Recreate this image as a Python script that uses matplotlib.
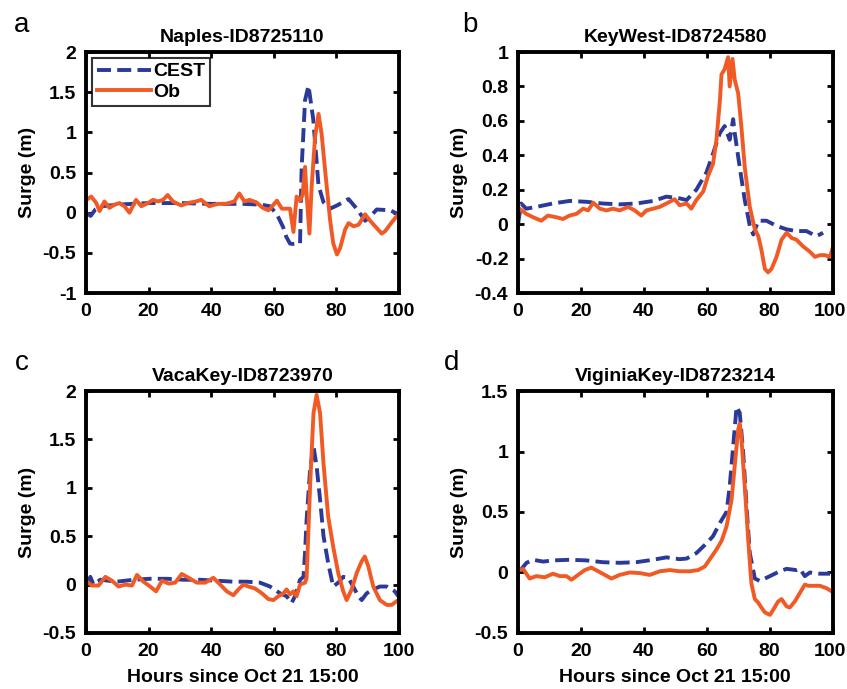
import numpy as np
import matplotlib
matplotlib.use('Agg')
from matplotlib import pyplot as plt
import matplotlib.transforms as mtrans

plt.rcParams['font.family'] = ['Liberation Sans', 'DejaVu Sans']
plt.rcParams['font.weight'] = 'bold'

# --- Naples ---
a_cest_t = [0, 1.5, 3, 5, 10, 20, 30, 40, 50, 56, 58.8, 61, 63, 64, 65.2, 66.5, 68.4, 68.9, 70, 71.1,
            72.6, 74.3, 75.9, 78, 80.2, 83.9, 86.5, 89.2, 90.8, 92.9, 97.2, 99.3]
a_cest_v = [0.0, -0.04, 0.04, 0.08, 0.1, 0.12, 0.12, 0.11, 0.11, 0.1, 0.08, -0.02, -0.18, -0.3, -0.385, -0.39, -0.385,
            0.55, 1.4, 1.58, 1.17, 0.34, 0.13, 0.05, 0.09, 0.17, 0.05, -0.1, -0.05, 0.04, 0.03, -0.01]
a_ob_t = [0.1, 1.7, 3.3, 4.35, 5.9, 7.5, 9.1, 10.7, 12.3, 13.9, 16, 17.7, 19.8, 21.4, 23, 24.6, 26.1, 27.8,
          30.4, 32.5, 35.2, 36.8, 39.4, 42.1, 44.8, 47.4, 49, 50.6, 52.2, 54.4, 56.5, 58.3, 59.5, 61, 62.6,
          65.2, 66.3, 67.3, 68.4, 69.2, 70, 70.5, 71.4, 72.1, 73.2, 74.3, 75.3, 76.4, 78, 79, 80.2, 81.2,
          82.8, 83.9, 85.5, 87.1, 89.2, 90.8, 92.4, 94.5, 95.6, 97.7, 99.8]
a_ob_v = [0.16, 0.2, 0.12, 0.02, 0.14, 0.06, 0.1, 0.12, 0.08, 0.0, 0.16, 0.08, 0.12, 0.16, 0.14, 0.16, 0.22, 0.14,
          0.09, 0.12, 0.14, 0.16, 0.08, 0.11, 0.11, 0.14, 0.24, 0.14, 0.16, 0.13, 0.06, 0.03, 0.08, 0.15, 0.05,
          0.05, -0.24, 0.2, 0.15, 0.22, 0.57, 0.22, -0.26, 0.32, 0.94, 1.23, 0.98, 0.53, -0.09, -0.38, -0.52, -0.44,
          -0.21, -0.13, -0.17, -0.15, -0.02, -0.1, -0.17, -0.26, -0.23, -0.12, -0.02]

# --- KeyWest ---
b_cest_t = [0, 1, 2.6, 5.8, 11, 16.4, 21.7, 27, 32.3, 37.6, 43, 47.2, 51.4, 53.6, 56.7, 59.9, 62, 64.2, 65.7,
            67.3, 68.4, 68.9, 70.5, 72.1, 73.7, 74.8, 76.4, 79, 82.2, 85.4, 88.5, 91.7, 94.9, 97]
b_cest_v = [0.0, 0.12, 0.09, 0.1, 0.12, 0.135, 0.13, 0.12, 0.115, 0.12, 0.135, 0.16, 0.15, 0.14, 0.2, 0.3, 0.41,
            0.53, 0.57, 0.49, 0.61, 0.53, 0.33, 0.14, -0.01, -0.06, 0.02, 0.02, -0.01, -0.03, -0.04, -0.04, -0.07, -0.05]
b_ob_t = [0.5, 2.6, 4.8, 7.4, 9.5, 12.2, 14.3, 16.4, 18.6, 20.7, 22.3, 23.9, 26, 28.1, 30.2, 32.3, 35, 37.1,
          39.2, 40.8, 43, 45, 47.2, 49.8, 51.4, 53.6, 55.1, 56.7, 58.9, 60.4, 62, 63.1, 64.2, 64.7, 65.7, 66.8,
          67.3, 68.2, 68.9, 70, 71, 72.1, 73.7, 75.3, 76.4, 77.4, 78.5, 79.5, 80.6, 82.2, 83.8, 85.4, 87, 88.5,
          90.7, 92.8, 94.4, 96, 97.6, 99.2, 100]
b_ob_v = [0.09, 0.06, 0.04, 0.02, 0.05, 0.04, 0.03, 0.05, 0.06, 0.09, 0.08, 0.125, 0.09, 0.08, 0.09, 0.08, 0.1, 0.08,
          0.05, 0.08, 0.09, 0.1, 0.12, 0.145, 0.11, 0.12, 0.09, 0.14, 0.19, 0.28, 0.35, 0.49, 0.72, 0.87, 0.9, 0.97,
          0.8, 0.96, 0.84, 0.76, 0.57, 0.33, 0.1, -0.03, -0.07, -0.15, -0.26, -0.28, -0.26, -0.19, -0.09, -0.05,
          -0.08, -0.09, -0.13, -0.16, -0.19, -0.18, -0.18, -0.19, -0.14]

# --- VacaKey ---
c_cest_t = [0.5, 1.4, 2.4, 4.6, 9.9, 15.2, 20.5, 25.9, 31.2, 36.5, 41.8, 47.1, 51.4, 55.6, 58.8, 62, 64.1, 65.7,
            66.8, 68.4, 69.5, 70, 70.5, 71.6, 72.7, 73.7, 74.8, 75.9, 77.4, 79, 80.6, 82.2, 83.8, 85.4, 87, 88.1,
            89.7, 91.8, 93.9, 96.1, 98.7, 99.8]
c_cest_v = [0.02, 0.08, 0.0, 0.05, 0.03, 0.05, 0.06, 0.06, 0.05, 0.05, 0.04, 0.03, 0.03, 0.02, -0.02, -0.09, -0.12,
            -0.19, -0.12, 0.05, 0.08, 0.33, 0.67, 1.18, 1.43, 1.22, 0.88, 0.5, 0.22, -0.02, 0.02, 0.08, 0.07, -0.02,
            -0.12, -0.16, -0.09, -0.05, -0.02, -0.02, -0.07, -0.12]
c_ob_t = [0.3, 1.9, 4, 6.2, 8.3, 10.4, 12.6, 14.7, 16.3, 18.4, 20.5, 22.4, 24.3, 26.4, 28.5, 30.6, 32.8, 35.4,
          38.1, 40.7, 42.9, 45, 47.1, 48.7, 50.3, 51.9, 54, 56.2, 58.3, 59.9, 61.5, 63.1, 64.1, 65.2, 66.3, 67.3,
          68.4, 70, 70.5, 71.6, 72.7, 73.7, 74.8, 75.9, 77.4, 79, 80.6, 82.2, 83.3, 84.9, 86.5, 88.1, 89.1, 90.2,
          91.8, 93.9, 96.1, 97.7, 99.3, 100]
c_ob_v = [0.03, -0.01, -0.01, 0.08, 0.04, -0.02, 0.0, -0.01, 0.1, 0.03, -0.02, -0.07, 0.04, 0.01, 0.02, 0.11, 0.07,
          0.02, 0.02, 0.07, 0.0, -0.07, -0.11, -0.05, 0.0, -0.02, -0.04, -0.09, -0.15, -0.16, -0.12, -0.09, -0.05,
          -0.1, -0.07, -0.12, 0.0, 0.02, 0.07, 1.01, 1.77, 1.96, 1.77, 1.25, 0.7, 0.39, 0.12, -0.07, -0.16, -0.05,
          0.12, 0.24, 0.29, 0.19, -0.02, -0.16, -0.21, -0.21, -0.17, -0.16]

# --- ViginiaKey ---
d_cest_t = [0.5, 2.7, 4.8, 8, 11.1, 16.4, 21.7, 27, 32.3, 37.6, 42.9, 47.2, 51.4, 53.6, 56.7, 59.9, 62, 64.2,
            66.3, 67.3, 68.4, 69.5, 70.5, 71.6, 72.6, 73.7, 75.3, 76.9, 80.1, 83.2, 85.4, 88.5, 89.6, 91.2, 92.8,
            96, 99.2]
d_cest_v = [0.01, 0.08, 0.105, 0.09, 0.1, 0.105, 0.1, 0.085, 0.08, 0.085, 0.105, 0.125, 0.11, 0.115, 0.16, 0.24,
            0.3, 0.41, 0.5, 0.71, 1.04, 1.37, 1.32, 0.99, 0.57, 0.16, -0.05, -0.07, -0.03, 0.01, 0.03, 0.02, 0.03,
            -0.03, 0.0, -0.01, -0.01]
d_ob_t = [0.5, 1.6, 3.7, 5.8, 8.5, 11.1, 13.3, 15.4, 17, 19.1, 21.2, 23.3, 25.5, 27.6, 29.7, 32.3, 35.5, 38.7,
          41.9, 45.1, 48.3, 51.4, 54.6, 57.3, 59.4, 61, 63.1, 64.7, 66.3, 67.9, 68.9, 70, 70.5, 71, 72.1, 73.2,
          74.2, 75.3, 76.4, 77.4, 78.5, 80.1, 81.1, 82.7, 83.8, 85.4, 86.4, 88, 89.6, 91.2, 92.3, 93.8, 96, 98.1, 100]
d_ob_v = [0.02, 0.03, -0.05, -0.03, -0.04, -0.01, -0.03, -0.03, -0.06, -0.02, 0.02, 0.04, 0.01, -0.02, -0.05, -0.02,
          0.0, -0.005, -0.02, 0.01, 0.02, 0.01, 0.01, 0.02, 0.05, 0.11, 0.19, 0.26, 0.38, 0.6, 0.88, 1.18, 1.23,
          1.12, 0.71, 0.27, -0.09, -0.22, -0.25, -0.29, -0.33, -0.35, -0.31, -0.24, -0.22, -0.28, -0.29, -0.24,
          -0.17, -0.1, -0.11, -0.11, -0.11, -0.13, -0.16]

titles = ['Naples-ID8725110', 'KeyWest-ID8724580', 'VacaKey-ID8723970', 'ViginiaKey-ID8723214']
letters = ['a', 'b', 'c', 'd']
ylims = [(-1, 2), (-0.4, 1), (-0.5, 2), (-0.5, 1.5)]
yticks = [[-1, -0.5, 0, 0.5, 1, 1.5, 2],
          [-0.4, -0.2, 0, 0.2, 0.4, 0.6, 0.8, 1],
          [-0.5, 0, 0.5, 1, 1.5, 2],
          [-0.5, 0, 0.5, 1, 1.5]]
xticks = [0, 20, 40, 60, 80, 100]
series = [(a_cest_t, a_cest_v, a_ob_t, a_ob_v),
          (b_cest_t, b_cest_v, b_ob_t, b_ob_v),
          (c_cest_t, c_cest_v, c_ob_t, c_ob_v),
          (d_cest_t, d_cest_v, d_ob_t, d_ob_v)]

cest_col = '#2b3a98'
ob_col = '#f15a24'
fs = 14

fig = plt.figure(figsize=(8.47, 6.89), dpi=100)
pos = [[0.1015, 0.5747, 0.3695, 0.3498],
       [0.6116, 0.5747, 0.3713, 0.3498],
       [0.1015, 0.0813, 0.3695, 0.3512],
       [0.6116, 0.0813, 0.3713, 0.3512]]
letter_xy = [(22, 25), (470, 25), (22, 363), (452, 363)]

for i in range(4):
    ax = fig.add_axes(pos[i])
    ct, cv, ot, ov = series[i]
    ax.plot(ct, cv, color=cest_col, lw=2.8, dashes=(3.6, 1.6), label='CEST')
    ax.plot(ot, ov, color=ob_col, lw=2.8, label='Ob')
    ax.set_xlim(0, 100)
    ax.set_ylim(*ylims[i])
    ax.set_xticks(xticks)
    ax.set_yticks(yticks[i])
    ax.set_yticklabels(['%g' % v for v in yticks[i]])
    for s in ax.spines.values():
        s.set_linewidth(2.8)
    ax.tick_params(direction='in', length=4, width=2, top=True, right=True,
                   labelsize=fs, pad=7)
    ax.set_title(titles[i], fontsize=fs, fontweight='bold', pad=7)
    ax.set_ylabel('Surge (m)', fontsize=fs, fontweight='bold', labelpad=5)
    if i >= 2:
        ax.set_xlabel('Hours since Oct 21 15:00', fontsize=fs, fontweight='bold', labelpad=7)
    if i % 2 == 1:
        # keep the last x label inside the figure edge
        last = ax.get_xticklabels()[-1]
        last.set_transform(last.get_transform() +
                           mtrans.ScaledTranslation(-3 / 100, 0, fig.dpi_scale_trans))
    if i == 0:
        leg = ax.legend(loc='upper left', fontsize=fs, frameon=True, fancybox=False,
                        handlelength=2.8, borderpad=0.25, labelspacing=0.15, handletextpad=0.1,
                        borderaxespad=0.3)
        leg.get_frame().set_edgecolor('black')
        leg.get_frame().set_linewidth(1.5)
    lx, ly = letter_xy[i]
    fig.text(lx / 847, 1 - ly / 689, letters[i], fontsize=20, fontweight='normal',
             ha='center', va='center')

fig.savefig('out.png', dpi=100)
